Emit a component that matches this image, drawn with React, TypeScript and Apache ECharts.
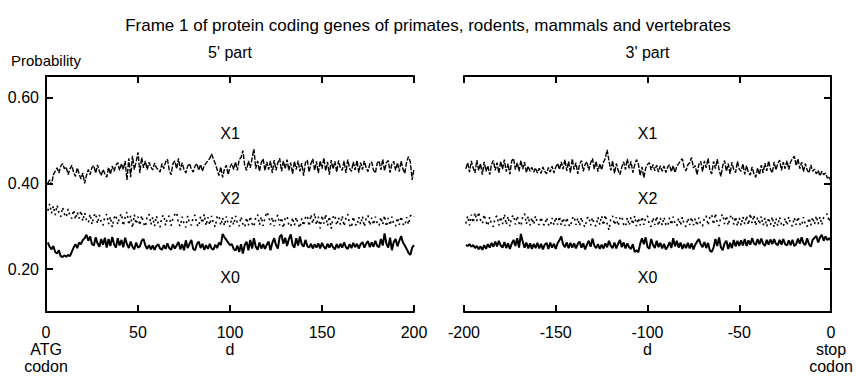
import React, { useEffect, useRef } from "react";
import * as echarts from "echarts";

const TITLE = "Frame 1 of protein coding genes of primates, rodents, mammals and vertebrates";
const Y_TICKS = [0.2, 0.4, 0.6];
const LABEL_NAMES = ["X1", "X2", "X0"];
const LABEL_Y = [0.515, 0.364, 0.18];
const LABEL_X_LEFT = 100;
const LABEL_X_RIGHT = -100;

// 5' part, d = 1..200
const x1Left = [
  0.400, 0.408, 0.396, 0.420, 0.428, 0.436, 0.424, 0.440, 0.446, 0.434,
  0.438, 0.420, 0.433, 0.442, 0.425, 0.416, 0.436, 0.422, 0.410, 0.424,
  0.400, 0.418, 0.432, 0.420, 0.437, 0.441, 0.424, 0.443, 0.428, 0.418,
  0.432, 0.422, 0.414, 0.437, 0.421, 0.440, 0.428, 0.442, 0.448, 0.430,
  0.446, 0.432, 0.452, 0.408, 0.458, 0.414, 0.464, 0.432, 0.450, 0.472,
  0.424, 0.460, 0.436, 0.452, 0.432, 0.449, 0.438, 0.431, 0.447, 0.436,
  0.432, 0.426, 0.446, 0.434, 0.450, 0.456, 0.430, 0.420, 0.446, 0.452,
  0.434, 0.458, 0.430, 0.448, 0.432, 0.424, 0.440, 0.446, 0.433, 0.426,
  0.440, 0.446, 0.430, 0.444, 0.428, 0.441, 0.447, 0.452, 0.458, 0.468,
  0.456, 0.446, 0.432, 0.418, 0.438, 0.414, 0.434, 0.442, 0.420, 0.438,
  0.446, 0.432, 0.450, 0.430, 0.455, 0.460, 0.476, 0.442, 0.430, 0.452,
  0.436, 0.458, 0.480, 0.434, 0.452, 0.428, 0.448, 0.457, 0.430, 0.450,
  0.432, 0.452, 0.424, 0.454, 0.430, 0.448, 0.458, 0.428, 0.452, 0.434,
  0.455, 0.430, 0.448, 0.422, 0.451, 0.432, 0.453, 0.428, 0.447, 0.418,
  0.448, 0.454, 0.426, 0.446, 0.457, 0.430, 0.451, 0.424, 0.452, 0.434,
  0.459, 0.429, 0.450, 0.420, 0.454, 0.433, 0.451, 0.426, 0.453, 0.436,
  0.430, 0.452, 0.424, 0.455, 0.434, 0.428, 0.450, 0.431, 0.453, 0.425,
  0.448, 0.432, 0.452, 0.436, 0.427, 0.446, 0.450, 0.430, 0.424, 0.447,
  0.452, 0.431, 0.456, 0.429, 0.448, 0.453, 0.425, 0.446, 0.451, 0.430,
  0.448, 0.427, 0.452, 0.433, 0.423, 0.450, 0.462, 0.450, 0.408, 0.434,
];
const x2Left = [
  0.336, 0.352, 0.330, 0.347, 0.326, 0.349, 0.332, 0.322, 0.344, 0.328,
  0.321, 0.340, 0.325, 0.318, 0.338, 0.316, 0.333, 0.318, 0.336, 0.312,
  0.331, 0.314, 0.308, 0.328, 0.304, 0.324, 0.330, 0.306, 0.326, 0.310,
  0.302, 0.323, 0.328, 0.305, 0.322, 0.298, 0.319, 0.326, 0.304, 0.321,
  0.329, 0.301, 0.320, 0.333, 0.303, 0.324, 0.296, 0.327, 0.305, 0.322,
  0.302, 0.325, 0.307, 0.299, 0.323, 0.328, 0.304, 0.321, 0.300, 0.324,
  0.306, 0.298, 0.322, 0.326, 0.302, 0.320, 0.324, 0.301, 0.318, 0.327,
  0.332, 0.305, 0.300, 0.322, 0.306, 0.297, 0.324, 0.307, 0.302, 0.321,
  0.326, 0.304, 0.299, 0.323, 0.307, 0.328, 0.301, 0.321, 0.303, 0.324,
  0.306, 0.298, 0.322, 0.325, 0.302, 0.320, 0.301, 0.323, 0.305, 0.299,
  0.321, 0.303, 0.324, 0.307, 0.300, 0.322, 0.305, 0.298, 0.320, 0.302,
  0.323, 0.306, 0.299, 0.321, 0.327, 0.303, 0.322, 0.301, 0.319, 0.333,
  0.324, 0.304, 0.321, 0.300, 0.319, 0.326, 0.302, 0.320, 0.296, 0.318,
  0.323, 0.303, 0.299, 0.320, 0.302, 0.321, 0.305, 0.296, 0.318, 0.301,
  0.320, 0.325, 0.300, 0.327, 0.306, 0.330, 0.303, 0.322, 0.295, 0.325,
  0.306, 0.328, 0.301, 0.323, 0.294, 0.321, 0.326, 0.302, 0.320, 0.304,
  0.324, 0.300, 0.319, 0.328, 0.303, 0.297, 0.322, 0.305, 0.301, 0.321,
  0.304, 0.323, 0.299, 0.319, 0.325, 0.302, 0.320, 0.303, 0.322, 0.306,
  0.301, 0.321, 0.304, 0.325, 0.299, 0.319, 0.302, 0.322, 0.305, 0.300,
  0.320, 0.303, 0.323, 0.305, 0.301, 0.321, 0.304, 0.324, 0.327, 0.322,
];
const x0Left = [
  0.262, 0.252, 0.246, 0.254, 0.240, 0.236, 0.244, 0.230, 0.228, 0.232,
  0.229, 0.233, 0.230, 0.240, 0.250, 0.258, 0.249, 0.262, 0.258, 0.268,
  0.272, 0.280, 0.266, 0.276, 0.258, 0.255, 0.274, 0.260, 0.252, 0.270,
  0.257, 0.273, 0.250, 0.270, 0.254, 0.275, 0.258, 0.250, 0.272, 0.255,
  0.268, 0.251, 0.273, 0.258, 0.249, 0.264, 0.252, 0.246, 0.262, 0.250,
  0.253, 0.266, 0.270, 0.255, 0.247, 0.256, 0.246, 0.255, 0.245, 0.254,
  0.258, 0.248, 0.245, 0.256, 0.247, 0.260, 0.249, 0.245, 0.258, 0.248,
  0.255, 0.263, 0.246, 0.258, 0.244, 0.267, 0.249, 0.259, 0.268, 0.247,
  0.244, 0.258, 0.264, 0.249, 0.259, 0.245, 0.256, 0.247, 0.259, 0.248,
  0.245, 0.257, 0.249, 0.262, 0.256, 0.282, 0.274, 0.268, 0.262, 0.256,
  0.258, 0.247, 0.243, 0.255, 0.240, 0.258, 0.236, 0.256, 0.264, 0.244,
  0.268, 0.248, 0.272, 0.252, 0.245, 0.262, 0.248, 0.258, 0.247, 0.257,
  0.264, 0.244, 0.261, 0.272, 0.256, 0.248, 0.275, 0.280, 0.259, 0.273,
  0.254, 0.270, 0.281, 0.257, 0.250, 0.272, 0.255, 0.276, 0.258, 0.252,
  0.268, 0.254, 0.250, 0.259, 0.248, 0.258, 0.250, 0.260, 0.248, 0.261,
  0.252, 0.247, 0.259, 0.250, 0.260, 0.251, 0.246, 0.258, 0.249, 0.259,
  0.250, 0.262, 0.251, 0.247, 0.258, 0.249, 0.261, 0.251, 0.259, 0.248,
  0.258, 0.263, 0.250, 0.259, 0.265, 0.251, 0.262, 0.252, 0.266, 0.254,
  0.251, 0.270, 0.255, 0.283, 0.259, 0.250, 0.273, 0.244, 0.263, 0.270,
  0.253, 0.266, 0.277, 0.262, 0.255, 0.247, 0.238, 0.233, 0.250, 0.256,
];

// 3' part, d = -199..0
const x1Right = [
  0.434, 0.448, 0.426, 0.452, 0.436, 0.424, 0.454, 0.430, 0.446, 0.420,
  0.450, 0.428, 0.441, 0.420, 0.444, 0.453, 0.430, 0.448, 0.424, 0.451,
  0.433, 0.455, 0.427, 0.446, 0.421, 0.452, 0.458, 0.432, 0.448, 0.428,
  0.453, 0.433, 0.449, 0.425, 0.440, 0.428, 0.437, 0.426, 0.436, 0.424,
  0.435, 0.423, 0.438, 0.428, 0.422, 0.437, 0.426, 0.440, 0.424, 0.438,
  0.446, 0.432, 0.450, 0.433, 0.455, 0.429, 0.451, 0.425, 0.457, 0.432,
  0.448, 0.422, 0.445, 0.453, 0.428, 0.444, 0.450, 0.430, 0.447, 0.458,
  0.433, 0.451, 0.427, 0.446, 0.431, 0.449, 0.458, 0.478, 0.452, 0.430,
  0.452, 0.423, 0.446, 0.430, 0.420, 0.438, 0.450, 0.432, 0.457, 0.435,
  0.451, 0.425, 0.442, 0.455, 0.446, 0.418, 0.438, 0.413, 0.435, 0.444,
  0.448, 0.431, 0.444, 0.429, 0.442, 0.426, 0.441, 0.428, 0.440, 0.425,
  0.438, 0.443, 0.427, 0.441, 0.425, 0.440, 0.446, 0.453, 0.457, 0.436,
  0.429, 0.443, 0.448, 0.460, 0.436, 0.441, 0.420, 0.444, 0.451, 0.427,
  0.452, 0.436, 0.458, 0.431, 0.422, 0.451, 0.434, 0.456, 0.432, 0.416,
  0.441, 0.453, 0.428, 0.446, 0.422, 0.449, 0.432, 0.425, 0.451, 0.433,
  0.428, 0.445, 0.421, 0.441, 0.425, 0.419, 0.438, 0.422, 0.414, 0.436,
  0.420, 0.442, 0.424, 0.447, 0.429, 0.452, 0.433, 0.424, 0.450, 0.431,
  0.446, 0.454, 0.430, 0.449, 0.434, 0.453, 0.432, 0.450, 0.457, 0.463,
  0.441, 0.457, 0.434, 0.449, 0.427, 0.446, 0.431, 0.424, 0.443, 0.428,
  0.433, 0.422, 0.430, 0.417, 0.428, 0.420, 0.424, 0.412, 0.416, 0.403,
];
const x2Right = [
  0.306, 0.324, 0.302, 0.327, 0.308, 0.331, 0.312, 0.333, 0.314, 0.306,
  0.327, 0.310, 0.301, 0.321, 0.304, 0.299, 0.320, 0.324, 0.302, 0.322,
  0.305, 0.328, 0.303, 0.323, 0.300, 0.321, 0.326, 0.304, 0.324, 0.307,
  0.301, 0.322, 0.329, 0.305, 0.323, 0.302, 0.320, 0.304, 0.324, 0.307,
  0.303, 0.321, 0.305, 0.302, 0.320, 0.304, 0.300, 0.319, 0.303, 0.321,
  0.304, 0.323, 0.302, 0.319, 0.301, 0.320, 0.304, 0.299, 0.318, 0.323,
  0.303, 0.319, 0.301, 0.321, 0.304, 0.298, 0.318, 0.322, 0.302, 0.320,
  0.303, 0.300, 0.321, 0.304, 0.324, 0.302, 0.326, 0.306, 0.291, 0.318,
  0.324, 0.303, 0.321, 0.301, 0.319, 0.323, 0.304, 0.299, 0.320, 0.302,
  0.321, 0.304, 0.324, 0.300, 0.319, 0.302, 0.322, 0.303, 0.320, 0.324,
  0.304, 0.299, 0.320, 0.303, 0.323, 0.301, 0.319, 0.302, 0.321, 0.304,
  0.300, 0.320, 0.303, 0.322, 0.305, 0.301, 0.319, 0.302, 0.321, 0.304,
  0.299, 0.319, 0.303, 0.321, 0.302, 0.318, 0.301, 0.320, 0.304, 0.300,
  0.319, 0.324, 0.302, 0.321, 0.327, 0.304, 0.330, 0.307, 0.301, 0.322,
  0.328, 0.305, 0.324, 0.302, 0.321, 0.326, 0.304, 0.322, 0.300, 0.319,
  0.302, 0.322, 0.305, 0.324, 0.303, 0.329, 0.307, 0.326, 0.301, 0.321,
  0.304, 0.323, 0.302, 0.319, 0.299, 0.320, 0.303, 0.322, 0.298, 0.318,
  0.301, 0.321, 0.304, 0.299, 0.319, 0.302, 0.322, 0.305, 0.300, 0.320,
  0.303, 0.322, 0.305, 0.301, 0.321, 0.304, 0.299, 0.319, 0.302, 0.321,
  0.304, 0.324, 0.305, 0.322, 0.303, 0.320, 0.325, 0.329, 0.310, 0.326,
];
const x0Right = [
  0.256, 0.254, 0.258, 0.252, 0.256, 0.249, 0.254, 0.246, 0.253, 0.245,
  0.256, 0.247, 0.258, 0.250, 0.261, 0.252, 0.264, 0.253, 0.266, 0.255,
  0.250, 0.263, 0.249, 0.260, 0.247, 0.259, 0.268, 0.254, 0.272, 0.250,
  0.282, 0.264, 0.250, 0.262, 0.248, 0.260, 0.247, 0.259, 0.249, 0.261,
  0.248, 0.259, 0.246, 0.257, 0.261, 0.247, 0.262, 0.250, 0.259, 0.247,
  0.260, 0.267, 0.276, 0.258, 0.251, 0.262, 0.249, 0.261, 0.250, 0.260,
  0.248, 0.259, 0.264, 0.250, 0.260, 0.246, 0.257, 0.266, 0.252, 0.271,
  0.255, 0.249, 0.258, 0.247, 0.257, 0.248, 0.260, 0.251, 0.266, 0.254,
  0.249, 0.262, 0.248, 0.259, 0.268, 0.251, 0.262, 0.248, 0.260, 0.251,
  0.247, 0.258, 0.240, 0.244, 0.239, 0.259, 0.272, 0.258, 0.274, 0.252,
  0.247, 0.270, 0.256, 0.249, 0.266, 0.251, 0.261, 0.248, 0.259, 0.246,
  0.252, 0.263, 0.249, 0.272, 0.253, 0.266, 0.250, 0.262, 0.247, 0.258,
  0.249, 0.261, 0.248, 0.260, 0.246, 0.257, 0.264, 0.270, 0.258, 0.251,
  0.263, 0.249, 0.261, 0.243, 0.240, 0.250, 0.270, 0.254, 0.274, 0.251,
  0.244, 0.260, 0.266, 0.247, 0.261, 0.249, 0.268, 0.253, 0.266, 0.254,
  0.267, 0.255, 0.270, 0.254, 0.267, 0.257, 0.272, 0.260, 0.256, 0.270,
  0.258, 0.271, 0.259, 0.254, 0.268, 0.257, 0.269, 0.258, 0.270, 0.259,
  0.256, 0.268, 0.257, 0.270, 0.258, 0.255, 0.267, 0.256, 0.268, 0.254,
  0.258, 0.271, 0.259, 0.274, 0.260, 0.256, 0.272, 0.258, 0.252, 0.268,
  0.273, 0.277, 0.262, 0.274, 0.280, 0.266, 0.276, 0.268, 0.272, 0.266,
];

const FONT = "'Liberation Sans', Arial, Helvetica, sans-serif";
const BLACK = "#000";

const leftPairs = (vals: number[]) => vals.map((v, i) => [i + 1, v]);
const rightPairs = (vals: number[]) => vals.map((v, i) => [i - 199, v]);

export default function App() {
  const ref = useRef<HTMLDivElement>(null);
  useEffect(() => {
    document.body.style.margin = "0";
    if (!ref.current) return;
    const chart = echarts.init(ref.current, undefined, { renderer: "svg" });

    const axisLine = { show: true, lineStyle: { color: BLACK, width: 2 } };
    const axisTick = { show: true, inside: true, length: 7, lineStyle: { color: BLACK, width: 2 } };
    const tickLabel = { color: BLACK, fontSize: 16, fontFamily: FONT };

    const xBase = (grid: number, min: number, max: number, pos: string) => ({
      type: "value",
      gridIndex: grid,
      min,
      max,
      interval: 50,
      position: pos,
      axisLine,
      axisTick,
      splitLine: { show: false },
    });

    const lineSeries = (name: string, data: number[][], xi: number, yi: number, style: any) => ({
      type: "line",
      name,
      xAxisIndex: xi,
      yAxisIndex: yi,
      data,
      symbol: "none",
      showSymbol: false,
      silent: true,
      lineStyle: style,
    });

    const x1Style = { color: BLACK, width: 1.4, type: [5, 1.5] };
    const x2Style = { color: BLACK, width: 1.6, type: [2, 3.5] };
    const x0Style = { color: BLACK, width: 2, type: "solid" };

    const labelSeries = (xPos: number, xi: number, yi: number) => ({
      type: "scatter",
      xAxisIndex: xi,
      yAxisIndex: yi,
      symbolSize: 0,
      silent: true,
      itemStyle: { opacity: 1, color: BLACK },
      data: LABEL_NAMES.map((n, i) => ({ name: n, value: [xPos, LABEL_Y[i]] })),
      label: {
        show: true,
        position: "inside",
        formatter: "{b}",
        color: BLACK,
        opacity: 1,
        fontSize: 16,
        fontFamily: FONT,
      },
    });

    chart.setOption({
      animation: false,
      textStyle: { fontFamily: FONT },
      title: {
        text: TITLE,
        left: "center",
        top: 12,
        textStyle: { fontSize: 17, fontWeight: "normal", color: BLACK, fontFamily: FONT },
      },
      grid: [
        { left: 46, top: 76, width: 368, height: 236 },
        { left: 464, top: 76, width: 367, height: 236 },
      ],
      xAxis: [
        {
          ...xBase(0, 0, 200, "bottom"),
          axisLabel: {
            ...tickLabel,
            margin: 12,
            lineHeight: 17,
            formatter: (v: number) => (v === 0 ? "0\nATG\ncodon" : v === 100 ? "100\nd" : String(v)),
          },
        },
        {
          ...xBase(0, 0, 200, "top"),
          axisLabel: { show: false },
          name: "5' part",
          nameLocation: "middle",
          nameGap: 16,
          nameTextStyle: { ...tickLabel },
        },
        {
          ...xBase(1, -200, 0, "bottom"),
          axisLabel: {
            ...tickLabel,
            margin: 12,
            lineHeight: 17,
            formatter: (v: number) => (v === 0 ? "0\nstop\ncodon" : v === -100 ? "-100\nd" : String(v)),
          },
        },
        {
          ...xBase(1, -200, 0, "top"),
          axisLabel: { show: false },
          name: "3' part",
          nameLocation: "middle",
          nameGap: 16,
          nameTextStyle: { ...tickLabel },
        },
      ],
      yAxis: [
        {
          type: "value",
          gridIndex: 0,
          min: 0.1,
          max: 0.65,
          position: "left",
          axisLine,
          axisTick: { ...axisTick, customValues: Y_TICKS },
          axisLabel: {
            ...tickLabel,
            margin: 7,
            customValues: Y_TICKS,
            formatter: (v: number) => v.toFixed(2),
          },
          splitLine: { show: false },
          name: "Probability",
          nameLocation: "end",
          nameGap: 16,
          nameTextStyle: { ...tickLabel, fontSize: 15, verticalAlign: "middle", align: "center" },
        },
        {
          type: "value",
          gridIndex: 1,
          min: 0.1,
          max: 0.65,
          position: "right",
          axisLine,
          axisTick: { ...axisTick, customValues: Y_TICKS },
          axisLabel: { show: false },
          splitLine: { show: false },
        },
      ],
      series: [
        lineSeries("X1 5'", leftPairs(x1Left), 0, 0, x1Style),
        lineSeries("X2 5'", leftPairs(x2Left), 0, 0, x2Style),
        lineSeries("X0 5'", leftPairs(x0Left), 0, 0, x0Style),
        lineSeries("X1 3'", rightPairs(x1Right), 2, 1, x1Style),
        lineSeries("X2 3'", rightPairs(x2Right), 2, 1, x2Style),
        lineSeries("X0 3'", rightPairs(x0Right), 2, 1, x0Style),
        labelSeries(LABEL_X_LEFT, 0, 0),
        labelSeries(LABEL_X_RIGHT, 2, 1),
      ],
    });
    return () => chart.dispose();
  }, []);
  return <div ref={ref} style={{ width: 856, height: 376 }} />;
}
